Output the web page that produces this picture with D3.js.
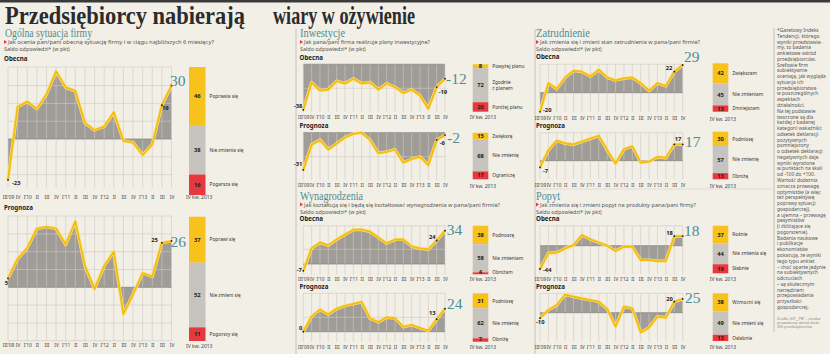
<!DOCTYPE html>
<html>
<head>
<meta charset="utf-8">
<script src="https://cdnjs.cloudflare.com/ajax/libs/d3/7.8.5/d3.min.js"></script>
<style>
body { margin: 0; background: #f2efe7; }
svg { display: block; }
</style>
</head>
<body>
<div id="graph"></div>
<script>
// kwartały III 2009 - IV 2013
const quarters = ["III'09", "IV", "I'10", "II", "III", "IV", "I'11", "II", "III", "IV",
                  "I'12", "II", "III", "IV", "I'13", "II", "III", "IV"];

// saldo odpowiedzi (w pkt)
const ogolnaObecna       = [-23, 18, 21, 17, 25, 38, 29, 27, 9, 5, 7, 15, -1, -2, -9, -3, 19, 30];
const ogolnaPrognoza     = [5, 16, 22, 33, 34, 33, 24, 37, 12, -1, 12, 20, -15, -4, 8, 6, 25, 26];
const inwestycjeObecna   = [-38, -15, -22, -21, -14, -16, -12, -16, -15, -21, -16, -19, -24, -21, -26, -37, -19, -12];
const inwestycjePrognoza = [-31, -10, -6, -14, -9, -4, -1, 0, -6, -17, -16, -14, -25, -22, -20, -27, -6, -2];
const wynagrodzeniaObecna   = [-7, 16, 22, 19, 25, 30, 35, 35, 33, 27, 21, 25, 25, 18, 16, 15, 24, 34];
const wynagrodzeniaPrognoza = [0, 16, 23, 18, 24, 27, 29, 31, 14, 10, 15, 14, 5, 7, 4, 1, 13, 24];
const zatrudnienieObecna   = [-20, 10, 4, 16, 23, 22, 17, 24, 16, 13, 15, 16, 10, 2, 10, 7, 22, 29];
const zatrudnieniePrognoza = [-7, 11, 21, 18, 17, 20, 23, 26, 11, -3, 12, 15, -2, -1, 4, 3, 17, 17];
const popytObecna   = [-44, -14, -13, -5, 1, 20, 12, 6, 0, -10, -2, -2, -27, -27, -29, -29, 18, 18];
const popytPrognoza = [-10, 5, 14, 33, 29, 26, 23, 20, 7, -25, 11, 8, -36, -27, -7, -9, 20, 25];

// struktura odpowiedzi IV kw. 2013 (%)
const ogolnaObecnaOdp = [46, 38, 16];
const ogolnaPrognozaOdp = [37, 52, 11];
const inwestycjeObecnaOdp = [8, 72, 20];
const inwestycjePrognozaOdp = [15, 68, 17];
const wynagrodzeniaObecnaOdp = [38, 58, 4];
const wynagrodzeniaPrognozaOdp = [31, 62, 7];
const zatrudnienieObecnaOdp = [42, 45, 13];
const zatrudnieniePrognozaOdp = [30, 57, 13];
const popytObecnaOdp = [37, 44, 19];
const popytPrognozaOdp = [38, 49, 13];

const ogolnaObecnaEt = ["Poprawia się", "Nie zmienia się", "Pogarsza się"];
const ogolnaPrognozaEt = ["Poprawi się", "Nie zmieni się", "Pogorszy się"];
const inwestycjeObecnaEt = ["Powyżej planu", "Zgodnie\nz planem", "Poniżej planu"];
const inwestycjePrognozaEt = ["Zwiększę", "Nie zmienię", "Ograniczę"];
const wynagrodzeniaObecnaEt = ["Podnoszę", "Nie zmieniam", "Obniżam"];
const wynagrodzeniaPrognozaEt = ["Podniosę", "Nie zmienię", "Obniżę"];
const zatrudnienieObecnaEt = ["Zwiększam", "Nie zmieniam", "Zmniejszam"];
const zatrudnieniePrognozaEt = ["Podniosę", "Nie zmienię", "Obniżę"];
const popytObecnaEt = ["Rośnie", "Nie zmienia się", "Słabnie"];
const popytPrognozaEt = ["Wzmocni się", "Nie zmieni się", "Osłabnie"];

const opisLinie = ["*Gazetowy Indeks", "Tendencji, którego", "wyniki przedstawia-", "my, to badania",
  "ankietowe wśród", "przedsiębiorców.", "Szefowie firm", "subiektywnie", "oceniają, jak wygląda",
  "sytuacja ich", "przedsiębiorstwa", "w poszczególnych", "aspektach", "działalności.",
  "Na tej podstawie", "tworzone są dla", "każdej z badanej", "kategorii wskaźniki:",
  "odsetek deklaracji", "pozytywnych", "pomniejszony", "o odsetek deklaracji", "negatywnych daje",
  "wyniki wyrażone", "w punktach na skali", "od -100 do +100.", "Wartość dodatnia",
  "oznacza przewagę", "optymistów (a więc", "też perspektywę", "poprawy sytuacji",
  "gospodarczej),", "a ujemna – przewagę", "pesymistów", "(i zbliżające się", "pogorszenie).",
  "Badania naukowe", "i publikacje", "ekonomistów", "pokazują, że wyniki", "tego typu ankiet",
  "– choć oparte jedynie", "na subiektywnych", "odczuciach", "– są skutecznym", "narzędziem",
  "przepowiadania", "przyszłości", "gospodarczej."];
const zrodloLinie = ["Źródło: GIT, „PB” – sondaż", "prowadzony wśród około", "300 przedsiębiorców"];

const barColors = ["#f8c21d", "#c7c3be", "#e5393f"];
const sans = "Noto Sans, Open Sans, sans-serif";
const serif = "Liberation Serif, DejaVu Serif, serif";

var svg = d3.select("#graph")
    .append("svg")
    .attr("width", 830)
    .attr("height", 354);

svg.append("rect").attr("width", 830).attr("height", 354).attr("fill", "#f2efe7");
svg.append("rect").attr("width", 830).attr("height", 2.5).attr("fill", "#3a3a3a");

// Tytuł
svg.append("text")
    .attr("x", 5).attr("y", 24)
    .attr("font-family", serif).attr("font-weight", "bold").attr("font-size", 26)
    .attr("fill", "#2b2b2b")
    .attr("textLength", 240).attr("lengthAdjust", "spacingAndGlyphs")
    .text("Przedsiębiorcy nabierają");
svg.append("text")
    .attr("x", 273).attr("y", 24)
    .attr("font-family", serif).attr("font-weight", "bold").attr("font-size", 26)
    .attr("fill", "#2b2b2b")
    .attr("textLength", 142).attr("lengthAdjust", "spacingAndGlyphs")
    .text("wiary w ożywienie");

// linie podziału
svg.append("line").attr("x1", 296).attr("x2", 296).attr("y1", 29).attr("y2", 354)
    .attr("stroke", "#a7a39e").attr("stroke-width", 0.6);
svg.append("line").attr("x1", 535).attr("x2", 535).attr("y1", 29).attr("y2", 354)
    .attr("stroke", "#a7a39e").attr("stroke-width", 0.6);
svg.append("line").attr("x1", 774).attr("x2", 774).attr("y1", 28).attr("y2", 332)
    .attr("stroke", "#a7a39e").attr("stroke-width", 0.6);
svg.append("line").attr("x1", 535).attr("x2", 772).attr("y1", 189).attr("y2", 189)
    .attr("stroke", "#cdc8c1").attr("stroke-width", 0.5);

// Nagłówki sekcji
const sections = [
    {title: "Ogólna sytuacja firmy", x: 5, y: 37, w: 87, q: "Jak ocenia pan/pani obecną sytuację firmy i w ciągu najbliższych 6 miesięcy?", qw: 206, sx: 4},
    {title: "Inwestycje", x: 300, y: 37, w: 45, q: "Jak pana/pani firma realizuje plany inwestycyjne?", qw: 126, sx: 300},
    {title: "Wynagrodzenia", x: 300, y: 199.5, w: 63, q: "Jak kształtują się i będą się kształtować wynagrodzenia w pana/pani firmie?", qw: 196, sx: 300},
    {title: "Zatrudnienie", x: 536, y: 37, w: 54, q: "Jak zmienia się i zmieni stan zatrudnienia w pana/pani firmie?", qw: 160, sx: 536},
    {title: "Popyt", x: 536, y: 199.5, w: 24, q: "Jak zmienia się i zmieni popyt na produkty pana/pani firmy?", qw: 156, sx: 536}
];

sections.forEach(function(s) {
    svg.append("text")
        .attr("x", s.x).attr("y", s.y)
        .attr("font-family", serif).attr("font-size", 13)
        .attr("fill", "#4f8d94")
        .attr("textLength", s.w).attr("lengthAdjust", "spacingAndGlyphs")
        .text(s.title);
    svg.append("path")
        .attr("d", "M" + s.sx + "," + (s.y + 3) + "l3,2l-3,2z")
        .attr("fill", "#e5393f");
    svg.append("text")
        .attr("x", s.sx + 4).attr("y", s.y + 7.2)
        .attr("font-family", sans).attr("font-size", 5.4)
        .attr("fill", "#555")
        .attr("textLength", s.qw).attr("lengthAdjust", "spacingAndGlyphs")
        .text(s.q);
    svg.append("text")
        .attr("x", s.sx).attr("y", s.y + 14)
        .attr("font-family", sans).attr("font-size", 5.4)
        .attr("fill", "#555")
        .text("Saldo odpowiedzi* (w pkt)");
});

// układ wykresów
const charts = [
    {data: ogolnaObecna, odp: ogolnaObecnaOdp, et: ogolnaObecnaEt, head: "Obecna", hx: 4, hy: 61,
     x0: 8, x1: 171.5, zeroY: 139, k: 1.78, top: 67, bottom: 188, hgrid: [30, 20, 10, -10, -20], tickY: 199,
     barX: 189, barW: 16.5, barTop: 67, barBot: 195, ikwY: 199,
     first: {dx: 4, dy: 5, a: "start"}, mid: {dx: 0, dy: 5, a: "start"}, big: {dx: -1.5, dy: 0}},
    {data: ogolnaPrognoza, odp: ogolnaPrognozaOdp, et: ogolnaPrognozaEt, head: "Prognoza", hx: 4, hy: 209.5,
     x0: 8, x1: 171.5, zeroY: 287.3, k: 1.78, top: 216, bottom: 341, hgrid: [30, 20, 10, -10, -20, -30], tickY: 347.5,
     barX: 189, barW: 16.5, barTop: 216.7, barBot: 341, ikwY: 347.5,
     first: {dx: 0, dy: 7, a: "end"}, mid: {dx: -4, dy: -1, a: "end"}, big: {dx: -1, dy: 5.5}},
    {data: inwestycjeObecna, odp: inwestycjeObecnaOdp, et: inwestycjeObecnaEt, head: "Obecna", hx: 299.5, hy: 59.5,
     x0: 303.3, x1: 445, zeroY: 64.3, k: 1.2, top: 64.3, bottom: 111.7, hgrid: [-20], tickY: 119,
     barX: 472.7, barW: 15.6, barTop: 64.3, barBot: 111.7, ikwY: 119,
     first: {dx: -1, dy: -2, a: "end"}, mid: {dx: 2, dy: 7, a: "start"}, big: {dx: 1, dy: 5.3}},
    {data: inwestycjePrognoza, odp: inwestycjePrognozaOdp, et: inwestycjePrognozaEt, head: "Prognoza", hx: 299.5, hy: 128,
     x0: 303.3, x1: 445, zeroY: 132.7, k: 1.2, top: 132.7, bottom: 180, hgrid: [-20], tickY: 187.5,
     barX: 472.7, barW: 15.6, barTop: 132.7, barBot: 179.3, ikwY: 187.5,
     first: {dx: -1, dy: -4, a: "end"}, mid: {dx: 3, dy: 5, a: "start"}, big: {dx: 2, dy: 8}},
    {data: wynagrodzeniaObecna, odp: wynagrodzeniaObecnaOdp, et: wynagrodzeniaObecnaEt, head: "Obecna", hx: 299.5, hy: 221.3,
     x0: 303.3, x1: 445, zeroY: 264, k: 0.98, top: 225.7, bottom: 275, hgrid: [15], tickY: 281,
     barX: 472.7, barW: 15.6, barTop: 225.7, barBot: 274.3, ikwY: 281,
     first: {dx: -1.5, dy: 1, a: "end"}, mid: {dx: -1, dy: -1, a: "end"}, big: {dx: 1.7, dy: 4.3}},
    {data: wynagrodzeniaPrognoza, odp: wynagrodzeniaPrognozaOdp, et: wynagrodzeniaPrognozaEt, head: "Prognoza", hx: 299.5, hy: 289,
     x0: 303.3, x1: 445, zeroY: 331.7, k: 0.96, top: 293.3, bottom: 342, hgrid: [15], tickY: 349,
     barX: 472.7, barW: 15.6, barTop: 293.3, barBot: 341.7, ikwY: 349,
     first: {dx: -1, dy: -2, a: "end"}, mid: {dx: -1, dy: -4, a: "end"}, big: {dx: 2, dy: 0.5}},
    {data: zatrudnienieObecna, odp: zatrudnienieObecnaOdp, et: zatrudnienieObecnaEt, head: "Obecna", hx: 536, hy: 59,
     x0: 540, x1: 682.7, zeroY: 92.7, k: 0.955, top: 64.3, bottom: 112, hgrid: [], tickY: 120.5,
     barX: 712.7, barW: 15.6, barTop: 63.3, barBot: 111.7, ikwY: 120.5,
     first: {dx: 3, dy: 0, a: "start"}, mid: {dx: -2, dy: -2, a: "end"}, big: {dx: 1.3, dy: -2.7}},
    {data: zatrudnieniePrognoza, odp: zatrudnieniePrognozaOdp, et: zatrudnieniePrognozaEt, head: "Prognoza", hx: 536, hy: 127.5,
     x0: 540, x1: 682.7, zeroY: 160.7, k: 0.96, top: 132.7, bottom: 179.3, hgrid: [], tickY: 187.5,
     barX: 712.7, barW: 15.6, barTop: 131.7, barBot: 179.3, ikwY: 187.5,
     first: {dx: 3, dy: 5.5, a: "start"}, mid: {dx: 0.5, dy: -3, a: "start"}, big: {dx: 2.3, dy: 2.3}},
    {data: popytObecna, odp: popytObecnaOdp, et: popytObecnaEt, head: "Obecna", hx: 536, hy: 221.3,
     x0: 540, x1: 682.7, zeroY: 245.7, k: 0.53, top: 225.7, bottom: 274.3, hgrid: [], tickY: 281,
     barX: 712.7, barW: 15.6, barTop: 225.7, barBot: 273.3, ikwY: 281,
     first: {dx: 3, dy: 3, a: "start"}, mid: {dx: -1.5, dy: -1, a: "end"}, big: {dx: 1.3, dy: -0.5}},
    {data: popytPrognoza, odp: popytPrognozaOdp, et: popytPrognozaEt, head: "Prognoza", hx: 536, hy: 289,
     x0: 540, x1: 682.7, zeroY: 312.7, k: 0.55, top: 293.3, bottom: 341.7, hgrid: [], tickY: 349,
     barX: 712.7, barW: 15.6, barTop: 293.3, barBot: 341, ikwY: 349,
     first: {dx: -4, dy: 6, a: "start"}, mid: {dx: -1.5, dy: -1, a: "end"}, big: {dx: 2.3, dy: 4.3}}
];

function drawChart(c) {
    var g = svg.append("g");

    var x = d3.scalePoint()
        .domain(d3.range(quarters.length))
        .range([c.x0, c.x1]);
    var y = d3.scaleLinear()
        .domain([0, 10])
        .range([c.zeroY, c.zeroY - 10 * c.k]);

    g.append("text")
        .attr("x", c.hx).attr("y", c.hy)
        .attr("font-family", sans).attr("font-weight", "bold").attr("font-size", 6.2)
        .attr("fill", "#222")
        .text(c.head);

    // pole
    var area = d3.area()
        .x(function(d, i) { return x(i); })
        .y0(y(0))
        .y1(function(d) { return y(d); });
    g.append("path").datum(c.data).attr("d", area).attr("fill", "#a09c97");

    // siatka
    g.selectAll("line.v")
        .data(d3.range(quarters.length))
        .enter().append("line")
        .attr("class", "v")
        .attr("x1", function(i) { return x(i); })
        .attr("x2", function(i) { return x(i); })
        .attr("y1", c.top).attr("y2", c.bottom)
        .attr("stroke", "#cfcac3").attr("stroke-width", 0.6);
    g.selectAll("line.h")
        .data([y.invert(c.top)].concat(c.hgrid))
        .enter().append("line")
        .attr("class", "h")
        .attr("x1", c.x0).attr("x2", c.x1)
        .attr("y1", function(d) { return y(d); })
        .attr("y2", function(d) { return y(d); })
        .attr("stroke", "#cfcac3").attr("stroke-width", 0.6);
    g.append("line")
        .attr("x1", c.x0).attr("x2", c.x1)
        .attr("y1", y(0)).attr("y2", y(0))
        .attr("stroke", "#85817c").attr("stroke-width", 0.7);

    // linia
    var line = d3.line()
        .x(function(d, i) { return x(i); })
        .y(function(d) { return y(d); });
    g.append("path").datum(c.data).attr("d", line)
        .attr("fill", "none").attr("stroke", "#fbe07a").attr("stroke-width", 3.2)
        .attr("stroke-linejoin", "round");
    g.append("path").datum(c.data).attr("d", line)
        .attr("fill", "none").attr("stroke", "#f4bc10").attr("stroke-width", 1.8)
        .attr("stroke-linejoin", "round");

    // oś X
    var axis = g.append("g")
        .attr("transform", "translate(0," + (c.tickY - 3.5) + ")")
        .call(d3.axisBottom(x).tickSize(0).tickPadding(0)
            .tickFormat(function(i) { return quarters[i]; }));
    axis.select("path.domain").remove();
    axis.selectAll("text")
        .attr("font-family", sans).attr("font-size", 4.8).attr("fill", "#444");

    // etykiety wartości
    var n = c.data.length;
    [[0, c.first], [n - 2, c.mid]].forEach(function(p) {
        var i = p[0], o = p[1];
        g.append("circle").attr("cx", x(i)).attr("cy", y(c.data[i])).attr("r", 0.9).attr("fill", "#222");
        g.append("text")
            .attr("x", x(i) + o.dx).attr("y", y(c.data[i]) + o.dy)
            .attr("text-anchor", o.a)
            .attr("font-family", sans).attr("font-weight", "bold").attr("font-size", 5.8)
            .attr("fill", "#222")
            .text(c.data[i]);
    });
    g.append("circle").attr("cx", x(n - 1)).attr("cy", y(c.data[n - 1])).attr("r", 0.9).attr("fill", "#222");
    g.append("text")
        .attr("x", x(n - 1) + c.big.dx).attr("y", y(c.data[n - 1]) + c.big.dy)
        .attr("font-family", serif).attr("font-size", 15.5)
        .attr("fill", "#4f8d94")
        .text(c.data[n - 1]);

    // słupek struktury odpowiedzi
    var yb = d3.scaleLinear().domain([0, 100]).range([c.barTop, c.barBot]);
    var cum = [0].concat(Array.from(d3.cumsum(c.odp)));
    g.selectAll("rect.seg")
        .data(c.odp)
        .enter().append("rect")
        .attr("class", "seg")
        .attr("x", c.barX).attr("width", c.barW)
        .attr("y", function(d, i) { return yb(cum[i]); })
        .attr("height", function(d) { return yb(d) - yb(0); })
        .attr("fill", function(d, i) { return barColors[i]; });
    g.selectAll("text.val")
        .data(c.odp)
        .enter().append("text")
        .attr("class", "val")
        .attr("x", c.barX + c.barW / 2)
        .attr("y", function(d, i) { return Math.min(yb(cum[i] + d / 2) + 2, yb(100) - 0.5); })
        .attr("text-anchor", "middle")
        .attr("font-family", sans).attr("font-weight", "bold").attr("font-size", 5.8)
        .attr("fill", "#222")
        .text(function(d) { return d; });
    c.et.forEach(function(t, i) {
        var parts = t.split("\n");
        var cy = Math.min(yb(cum[i] + c.odp[i] / 2), yb(100) - 2);
        var txt = g.append("text")
            .attr("x", c.barX + c.barW + 4)
            .attr("y", cy + 1.7 - (parts.length - 1) * 2.8)
            .attr("font-family", sans).attr("font-size", 4.8)
            .attr("fill", "#333");
        parts.forEach(function(p, j) {
            txt.append("tspan").attr("x", c.barX + c.barW + 4).attr("dy", j === 0 ? 0 : 5.6).text(p);
        });
    });
    g.append("text")
        .attr("x", c.barX - 3).attr("y", c.ikwY)
        .attr("font-family", sans).attr("font-size", 5)
        .attr("fill", "#444")
        .text("IV kw. 2013");
}

charts.forEach(drawChart);

// kolumna z opisem
var opis = svg.append("text")
    .attr("font-family", sans).attr("font-size", 4.9)
    .attr("fill", "#555");
opisLinie.forEach(function(t, i) {
    opis.append("tspan").attr("x", 777).attr("y", 32 + i * 5.77).text(t);
});
opis.selectAll("tspan").each(function() {
    if (this.getComputedTextLength() > 51) {
        d3.select(this).attr("textLength", 51).attr("lengthAdjust", "spacingAndGlyphs");
    }
});
var zrodlo = svg.append("text")
    .attr("font-family", sans).attr("font-size", 3.6)
    .attr("fill", "#888");
zrodloLinie.forEach(function(t, i) {
    zrodlo.append("tspan").attr("x", 777).attr("y", 319.5 + i * 4.2).text(t);
});
</script>
</body>
</html>
